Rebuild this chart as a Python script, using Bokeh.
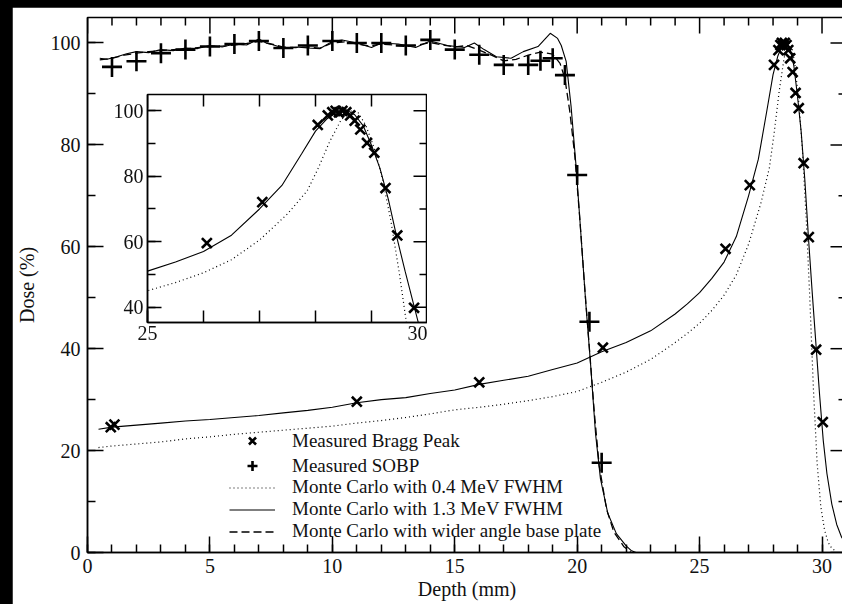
import math
from bokeh.plotting import figure
from bokeh.models import (Range1d, SingleIntervalTicker, Legend, LegendItem,
                          GlobalInlineStyleSheet)
from bokeh.layouts import column
from bokeh.embed import file_html
from bokeh.resources import INLINE

FONT = "Liberation Serif"

# ---------------- data ----------------
# Measured Bragg peak (x markers)
bragg_meas_x = [0.95, 1.1, 11.0, 16.0, 21.05, 26.06, 27.05, 28.04, 28.22, 28.3, 28.36, 28.42,
                28.48, 28.55, 28.62, 28.7, 28.8, 28.92, 29.05, 29.25, 29.46, 29.76, 30.03]
bragg_meas_y = [24.6, 25.1, 29.6, 33.4, 40.2, 59.6, 72.1, 95.7, 98.6, 99.6, 100.0, 99.5,
                100.0, 99.6, 98.6, 97.0, 94.3, 90.2, 87.2, 76.4, 61.9, 39.8, 25.6]

# Measured SOBP (+ markers)
sobp_meas_x = [1, 2, 3, 4, 5, 6, 7, 8, 9, 10, 11, 12, 13, 14, 15, 16, 17, 18, 18.5, 19,
               19.5, 20, 20.5, 21]
sobp_meas_y = [95.3, 96.4, 98.0, 98.7, 99.3, 99.8, 100.4, 99.0, 99.5, 100.4, 100.0, 100.0,
               99.5, 100.6, 98.7, 97.7, 95.7, 95.7, 96.5, 97.0, 93.7, 74.1, 45.3, 17.6]

# Monte Carlo 1.3 MeV FWHM, Bragg peak (solid)
mc13_bragg_x = [0.45, 1.0, 2.0, 3.0, 4.0, 5.0, 6.0, 7.0, 8.0, 9.0, 10.0, 11.0, 12.0, 13.0,
                14.0, 15.0, 16.0, 17.0, 18.0, 19.0, 20.0, 21.0, 22.0, 23.0, 24.0, 24.5, 25.0,
                25.5, 26.0, 26.5, 27.0, 27.4, 27.75, 28.0, 28.2, 28.4, 28.55, 28.7, 28.85,
                29.0, 29.15, 29.3, 29.45, 29.6, 29.75, 29.9, 30.05, 30.2, 30.4, 30.6, 30.8, 31.0]
mc13_bragg_y = [24.2, 24.6, 25.0, 25.4, 25.8, 26.1, 26.5, 26.9, 27.4, 27.9, 28.5, 29.4, 30.0,
                30.4, 31.2, 31.9, 33.0, 33.8, 34.6, 35.9, 37.2, 39.4, 41.2, 43.5, 46.8, 48.8,
                51.0, 53.8, 57.0, 62.0, 70.0, 77.2, 86.8, 93.8, 97.5, 99.8, 100.3, 98.8, 95.5,
                89.5, 82.5, 73.0, 61.5, 51.0, 41.0, 31.0, 22.0, 15.5, 9.5, 5.5, 3.0, 1.5]

# Monte Carlo 0.4 MeV FWHM, Bragg peak (dotted)
mc04_bragg_x = [0.45, 1.0, 2.0, 3.0, 4.0, 5.0, 6.0, 7.0, 8.0, 9.0, 10.0, 11.0, 12.0, 13.0,
                14.0, 15.0, 16.0, 17.0, 18.0, 19.0, 20.0, 21.0, 22.0, 23.0, 24.0, 24.5, 25.0,
                25.5, 26.0, 26.5, 27.0, 27.5, 27.85, 28.05, 28.25, 28.45, 28.6, 28.75, 28.9,
                29.05, 29.2, 29.35, 29.5, 29.65, 29.8, 29.95, 30.1, 30.25, 30.4, 30.6]
mc04_bragg_y = [20.6, 20.9, 21.3, 21.7, 22.3, 22.7, 23.2, 23.6, 24.0, 24.4, 24.8, 25.4, 25.9,
                26.5, 27.2, 28.0, 28.5, 29.1, 29.8, 30.6, 31.6, 33.4, 35.4, 37.9, 41.2, 43.0,
                45.0, 47.5, 50.5, 54.5, 60.5, 68.5, 75.5, 82.5, 90.5, 97.0, 100.0, 99.8, 95.5,
                88.5, 79.0, 66.0, 50.0, 32.0, 17.5, 9.0, 4.5, 2.0, 0.8, 0.2]

# Monte Carlo 1.3 MeV FWHM, SOBP (solid)
mc13_sobp_x = [0.5, 0.8, 1.2, 1.6, 2.0, 2.5, 3.0, 3.5, 4.0, 4.5, 5.0, 5.5, 6.0, 6.5, 7.0, 7.3,
               7.6, 8.0, 8.5, 9.0, 9.5, 10.0, 10.4, 11.0, 11.6, 12.0, 12.7, 13.4, 14.0, 14.7,
               15.4, 15.8, 16.2, 16.7, 17.3, 17.8, 18.4, 18.9, 19.2, 19.35, 19.55, 19.75,
               19.95, 20.15, 20.35, 20.55, 20.75, 20.95, 21.25, 21.6, 22.0, 22.2, 22.4]
mc13_sobp_y = [97.0, 96.8, 97.3, 97.9, 98.3, 98.1, 98.7, 98.5, 99.0, 98.9, 99.5, 99.2, 99.8,
               99.6, 100.8, 100.0, 99.6, 99.0, 99.2, 99.0, 98.9, 100.3, 100.6, 100.0, 99.1,
               100.0, 99.8, 99.1, 100.4, 99.5, 99.1, 100.0, 98.7, 97.3, 97.0, 98.3, 99.3,
               101.9, 100.9, 99.5, 96.4, 87.6, 76.1, 62.6, 49.0, 36.8, 23.3, 14.5, 7.7, 3.7,
               1.3, 0.4, 0.0]

# Monte Carlo with wider angle base plate, SOBP (dashed)
wide_sobp_x = [0.5, 1.0, 1.5, 2.0, 2.5, 3.0, 3.5, 4.0, 4.5, 5.0, 5.5, 6.0, 6.5, 7.0, 7.5, 8.0,
               8.5, 9.0, 9.5, 10.0, 10.5, 11.0, 11.5, 12.0, 12.5, 13.0, 13.5, 14.0, 14.5,
               15.0, 15.5, 16.0, 16.5, 17.0, 17.5, 18.0, 18.5, 19.0, 19.3, 19.5, 19.7, 19.9,
               20.1, 20.3, 20.5, 20.7, 20.9, 21.2, 21.5, 21.9, 22.2]
wide_sobp_y = [96.7, 97.0, 97.6, 98.0, 98.3, 98.5, 98.7, 98.8, 99.1, 99.3, 99.4, 99.6, 99.9,
               100.3, 99.8, 99.2, 99.1, 99.2, 99.0, 100.0, 100.2, 99.8, 99.4, 99.8, 99.6,
               99.3, 99.6, 100.1, 99.6, 99.2, 99.5, 98.6, 97.6, 96.5, 96.8, 97.6, 98.2, 97.8,
               96.0, 93.0, 86.5, 78.0, 66.0, 52.5, 40.0, 27.5, 17.0, 8.5, 4.0, 1.2, 0.0]

legend_labels = ["Measured Bragg Peak", "Measured SOBP", "Monte Carlo with 0.4 MeV FWHM",
                 "Monte Carlo with 1.3 MeV FWHM", "Monte Carlo with wider angle base plate"]


# ---------------- helpers ----------------
def style_axis(ax, major=16, minor=8):
    ax.axis_line_color = "black"
    ax.axis_line_width = 1.5
    ax.major_tick_in = major
    ax.major_tick_out = 0
    ax.minor_tick_in = minor
    ax.minor_tick_out = 0
    ax.major_tick_line_color = "black"
    ax.minor_tick_line_color = "black"
    ax.major_tick_line_width = 1.5
    ax.minor_tick_line_width = 1.5
    ax.major_label_text_font = FONT
    ax.major_label_text_font_size = "20px"
    ax.major_label_text_color = "#111111"
    ax.axis_label_text_font = FONT
    ax.axis_label_text_font_size = "20px"
    ax.axis_label_text_font_style = "normal"
    ax.axis_label_text_color = "#111111"


def mirror_ticks(fig, xr, yr, xstep, ystep, major, minor_x, minor_y):
    """Inward tick marks on the top and right frame edges, drawn as rays."""
    x0, x1 = xr.start, xr.end
    y0, y1 = yr.start, yr.end
    xs = [v for v in range(math.ceil(x0), math.floor(x1) + 1)]
    xmaj = [v for v in xs if v % xstep == 0]
    xmin = [v for v in xs if v % xstep != 0]
    ys = [v for v in range(math.ceil(y0 / 10) * 10, int(y1) + 1, 10)]
    ymaj = [v for v in ys if v % ystep == 0]
    ymin = [v for v in ys if v % ystep != 0]
    kw = dict(line_color="black", line_width=1.5, length_units="screen")
    fig.ray(x=xmaj, y=[y1] * len(xmaj), length=major, angle=-math.pi / 2, **kw)
    fig.ray(x=xmin, y=[y1] * len(xmin), length=minor_x, angle=-math.pi / 2, **kw)
    fig.ray(x=[x1] * len(ymaj), y=ymaj, length=major, angle=math.pi, **kw)
    fig.ray(x=[x1] * len(ymin), y=ymin, length=minor_y, angle=math.pi, **kw)


def draw_curves(fig):
    r_dot = fig.line(mc04_bragg_x, mc04_bragg_y, line_color="black", line_width=1.2,
                     line_dash="1 3")
    r_sol = fig.line(mc13_bragg_x, mc13_bragg_y, line_color="black", line_width=1.1)
    r_pts = fig.scatter(bragg_meas_x, bragg_meas_y, marker="x", size=14,
                        line_color="black", line_width=2.6)
    return r_dot, r_sol, r_pts


# ---------------- main figure ----------------
p = figure(width=834, height=600, output_backend="svg", toolbar_location=None,
           x_range=Range1d(0, 31), y_range=Range1d(0, 105),
           min_border_left=73, min_border_right=0, min_border_top=10, min_border_bottom=55,
           x_axis_label="Depth (mm)", y_axis_label="Dose (%)")
p.grid.visible = False
p.outline_line_color = "black"
p.outline_line_width = 1.5
p.background_fill_color = "white"
p.border_fill_color = "white"

p.xaxis.ticker = SingleIntervalTicker(interval=5, num_minor_ticks=5)
p.yaxis.ticker = SingleIntervalTicker(interval=20, num_minor_ticks=2)
for ax in p.xaxis + p.yaxis:
    style_axis(ax)
p.xaxis.major_label_standoff = 6
p.xaxis.axis_label_standoff = 2
p.yaxis.major_label_standoff = 7
p.yaxis.axis_label_standoff = 10
mirror_ticks(p, p.x_range, p.y_range, 5, 20, 16, 8, 8)

r_sobp_sol = p.line(mc13_sobp_x, mc13_sobp_y, line_color="black", line_width=1.1)
r_sobp_wide = p.line(wide_sobp_x, wide_sobp_y, line_color="black", line_width=1.3,
                     line_dash="8 4")
r_dot, r_sol, r_bpts = draw_curves(p)
r_spts = p.scatter(sobp_meas_x, sobp_meas_y, marker="cross", size=20,
                   line_color="black", line_width=2.6)

leg_kw = dict(padding=0, margin=0, spacing=0, glyph_width=46, label_standoff=17,
              border_line_alpha=0, background_fill_alpha=0,
              label_text_font=FONT, label_text_font_size="19px",
              label_text_color="#111111")
legend_markers = Legend(items=[LegendItem(label=legend_labels[0], renderers=[r_bpts]),
                               LegendItem(label=legend_labels[1], renderers=[r_spts])],
                        location=(142, 74), glyph_height=25, label_height=25, **leg_kw)
legend_lines = Legend(items=[LegendItem(label=legend_labels[2], renderers=[r_dot]),
                             LegendItem(label=legend_labels[3], renderers=[r_sol]),
                             LegendItem(label=legend_labels[4], renderers=[r_sobp_wide])],
                      location=(142, 10), glyph_height=21, label_height=21, **leg_kw)
p.add_layout(legend_markers)
p.add_layout(legend_lines)

# ---------------- inset ----------------
# (plots in a column share their left/right border widths, so the inset uses the
#  same side borders as the main plot)
inset = figure(width=355, height=261, output_backend="svg", toolbar_location=None,
               x_range=Range1d(25, 30), y_range=Range1d(35.3, 105),
               min_border_left=73, min_border_right=0, min_border_top=5, min_border_bottom=28,
               styles={"position": "fixed", "left": "72px", "top": "89px", "z-index": "5"})
inset.grid.visible = False
inset.outline_line_color = "black"
inset.outline_line_width = 1.5
inset.border_fill_alpha = 0.0
inset.background_fill_color = "white"
inset.xaxis.ticker = SingleIntervalTicker(interval=5, num_minor_ticks=5)
inset.yaxis.ticker = SingleIntervalTicker(interval=20, num_minor_ticks=2)
for ax in inset.xaxis:
    style_axis(ax, major=14, minor=12)
    ax.major_label_standoff = 3
for ax in inset.yaxis:
    style_axis(ax, major=14, minor=8)
    ax.major_label_standoff = 4
mirror_ticks(inset, inset.x_range, inset.y_range, 5, 20, 14, 12, 8)
draw_curves(inset)

css = GlobalInlineStyleSheet(css="html, body { margin: 0; padding: 0; background: #000000; overflow: hidden; } body { padding: 7px 0 0 12px; }")
layout = column(p, inset, stylesheets=[css])

open("out.html", "w").write(file_html(layout, INLINE))
